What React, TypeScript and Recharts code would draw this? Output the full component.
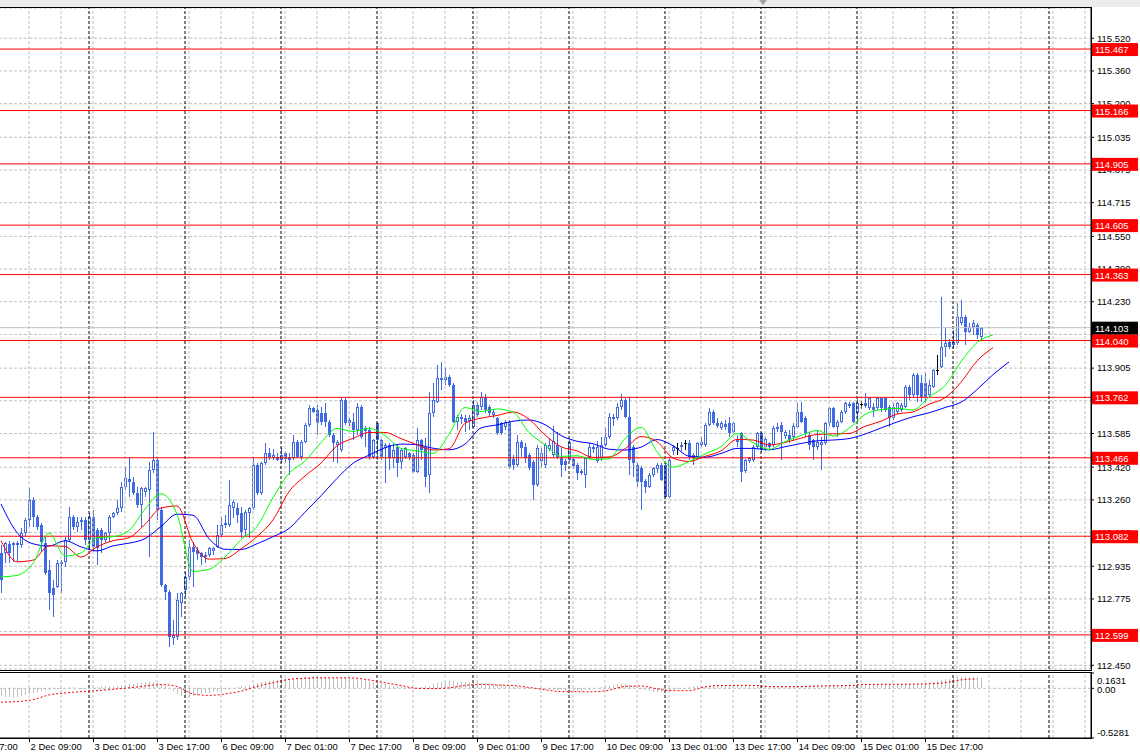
import React from 'react';
import { ComposedChart, Bar, Line, XAxis, YAxis, CartesianGrid, ReferenceLine } from 'recharts';

// H1 candles with three moving averages, horizontal levels and an oscillator panel underneath

const opens = [
  113.000, 112.998, 113.044, 113.040, 113.047, 113.039, 113.096, 113.161, 113.259, 113.178,
  113.137, 113.047, 112.917, 112.827, 112.835, 112.949, 112.957, 113.063, 113.178, 113.129,
  113.153, 113.161, 113.063, 113.178, 113.112, 113.112, 113.063, 113.096, 113.178, 113.194,
  113.218, 113.325, 113.361, 113.349, 113.292, 113.235, 113.300, 113.310, 113.406, 113.455,
  113.210, 112.843, 112.811, 112.582, 112.590, 112.753, 112.819, 112.884, 113.031, 113.015,
  112.998, 112.990, 112.990, 113.010, 113.031, 113.088, 113.137, 113.137, 113.218, 113.219,
  113.194, 113.112, 113.196, 113.219, 113.431, 113.292, 113.439, 113.488, 113.465, 113.472,
  113.455, 113.488, 113.470, 113.463, 113.545, 113.472, 113.545, 113.627, 113.708, 113.700,
  113.684, 113.684, 113.643, 113.578, 113.530, 113.504, 113.749, 113.635, 113.643, 113.602,
  113.716, 113.610, 113.602, 113.472, 113.635, 113.553, 113.515, 113.530, 113.464, 113.520,
  113.445, 113.472, 113.488, 113.480, 113.398, 113.553, 113.520, 113.382, 113.684, 113.741,
  113.850, 113.847, 113.863, 113.823, 113.643, 113.660, 113.660, 113.645, 113.619, 113.725,
  113.715, 113.766, 113.716, 113.676, 113.660, 113.635, 113.619, 113.643, 113.460, 113.430,
  113.545, 113.520, 113.480, 113.447, 113.333, 113.450, 113.430, 113.510, 113.480, 113.529,
  113.464, 113.450, 113.455, 113.460, 113.430, 113.400, 113.382, 113.470, 113.510, 113.450,
  113.465, 113.529, 113.570, 113.660, 113.660, 113.716, 113.749, 113.667, 113.520, 113.430,
  113.415, 113.350, 113.325, 113.380, 113.410, 113.430, 113.431, 113.276, 113.500, 113.513,
  113.520, 113.537, 113.537, 113.480, 113.470, 113.530, 113.530, 113.627, 113.692, 113.635,
  113.610, 113.630, 113.635, 113.594, 113.560, 113.586, 113.400, 113.450, 113.455, 113.521,
  113.586, 113.520, 113.537, 113.529, 113.605, 113.626, 113.575, 113.580, 113.570, 113.618,
  113.691, 113.660, 113.580, 113.553, 113.520, 113.530, 113.537, 113.634, 113.708, 113.618,
  113.642, 113.690, 113.720, 113.732, 113.683, 113.728, 113.735, 113.708, 113.716, 113.708,
  113.757, 113.757, 113.716, 113.659, 113.691, 113.700, 113.716, 113.814, 113.773, 113.871,
  113.830, 113.830, 113.773, 113.814, 113.895, 113.912, 114.010, 114.034, 114.018, 114.026,
  114.124, 114.156, 114.083, 114.107, 114.116, 114.059,
];
const highs = [
  113.039, 113.055, 113.060, 113.055, 113.060, 113.121, 113.170, 113.316, 113.276, 113.186,
  113.145, 113.080, 112.966, 112.868, 112.966, 112.966, 113.080, 113.223, 113.186, 113.178,
  113.178, 113.178, 113.194, 113.210, 113.120, 113.121, 113.104, 113.186, 113.202, 113.259,
  113.349, 113.423, 113.471, 113.374, 113.325, 113.325, 113.325, 113.447, 113.594, 113.463,
  113.227, 112.850, 112.820, 112.672, 112.802, 112.811, 112.909, 113.063, 113.055, 113.031,
  113.006, 113.006, 113.031, 113.030, 113.137, 113.178, 113.186, 113.357, 113.259, 113.243,
  113.227, 113.210, 113.227, 113.472, 113.440, 113.447, 113.537, 113.513, 113.508, 113.488,
  113.521, 113.496, 113.488, 113.578, 113.553, 113.553, 113.635, 113.725, 113.717, 113.725,
  113.716, 113.733, 113.652, 113.586, 113.553, 113.765, 113.757, 113.660, 113.684, 113.733,
  113.725, 113.620, 113.619, 113.560, 113.640, 113.560, 113.537, 113.537, 113.537, 113.529,
  113.513, 113.521, 113.496, 113.490, 113.611, 113.560, 113.561, 113.790, 113.831, 113.921,
  113.937, 113.904, 113.870, 113.830, 113.676, 113.680, 113.676, 113.676, 113.749, 113.740,
  113.790, 113.780, 113.725, 113.700, 113.665, 113.643, 113.651, 113.651, 113.480, 113.578,
  113.553, 113.540, 113.490, 113.455, 113.529, 113.513, 113.537, 113.561, 113.620, 113.594,
  113.520, 113.460, 113.553, 113.470, 113.440, 113.410, 113.472, 113.540, 113.530, 113.550,
  113.570, 113.610, 113.684, 113.680, 113.733, 113.778, 113.760, 113.765, 113.530, 113.440,
  113.425, 113.360, 113.390, 113.423, 113.440, 113.440, 113.440, 113.472, 113.530, 113.538,
  113.545, 113.553, 113.553, 113.490, 113.545, 113.570, 113.635, 113.708, 113.700, 113.660,
  113.645, 113.650, 113.667, 113.643, 113.580, 113.594, 113.460, 113.470, 113.530, 113.594,
  113.594, 113.570, 113.545, 113.620, 113.635, 113.640, 113.600, 113.600, 113.634, 113.732,
  113.740, 113.670, 113.590, 113.560, 113.600, 113.570, 113.642, 113.716, 113.716, 113.650,
  113.700, 113.740, 113.740, 113.740, 113.756, 113.745, 113.781, 113.765, 113.732, 113.765,
  113.760, 113.765, 113.724, 113.732, 113.740, 113.735, 113.822, 113.822, 113.879, 113.879,
  113.871, 113.879, 113.846, 113.903, 113.969, 114.254, 114.107, 114.050, 114.091, 114.222,
  114.238, 114.165, 114.124, 114.140, 114.124, 114.107,
];
const lows = [
  112.804, 112.949, 112.949, 112.957, 112.960, 113.023, 113.080, 113.129, 113.129, 113.112,
  113.006, 112.892, 112.721, 112.688, 112.827, 112.802, 112.933, 113.055, 113.112, 113.104,
  113.112, 113.039, 113.015, 113.006, 112.941, 112.998, 113.055, 113.055, 113.170, 113.186,
  113.202, 113.308, 113.276, 113.284, 113.218, 113.129, 113.276, 112.982, 113.390, 113.161,
  112.835, 112.770, 112.541, 112.549, 112.574, 112.688, 112.786, 112.868, 112.835, 112.966,
  112.941, 112.949, 112.982, 112.990, 113.023, 113.080, 113.120, 113.129, 113.170, 113.145,
  113.072, 113.080, 113.072, 113.210, 113.284, 113.284, 113.430, 113.455, 113.455, 113.448,
  113.439, 113.440, 113.382, 113.455, 113.463, 113.455, 113.537, 113.619, 113.684, 113.578,
  113.627, 113.619, 113.570, 113.447, 113.439, 113.496, 113.627, 113.620, 113.553, 113.578,
  113.560, 113.520, 113.455, 113.460, 113.455, 113.455, 113.341, 113.406, 113.415, 113.374,
  113.410, 113.460, 113.455, 113.390, 113.390, 113.455, 113.325, 113.292, 113.668, 113.733,
  113.798, 113.820, 113.815, 113.635, 113.602, 113.630, 113.594, 113.600, 113.610, 113.668,
  113.700, 113.684, 113.668, 113.660, 113.578, 113.578, 113.600, 113.410, 113.406, 113.420,
  113.472, 113.440, 113.407, 113.260, 113.325, 113.423, 113.415, 113.500, 113.470, 113.460,
  113.370, 113.400, 113.450, 113.410, 113.358, 113.380, 113.317, 113.460, 113.490, 113.440,
  113.450, 113.520, 113.560, 113.620, 113.650, 113.700, 113.660, 113.382, 113.374, 113.325,
  113.211, 113.292, 113.317, 113.370, 113.390, 113.350, 113.268, 113.270, 113.480, 113.480,
  113.500, 113.504, 113.455, 113.430, 113.460, 113.520, 113.520, 113.620, 113.627, 113.610,
  113.600, 113.600, 113.570, 113.585, 113.520, 113.349, 113.390, 113.440, 113.447, 113.510,
  113.496, 113.500, 113.510, 113.520, 113.590, 113.455, 113.560, 113.540, 113.550, 113.610,
  113.634, 113.570, 113.504, 113.455, 113.504, 113.406, 113.530, 113.620, 113.610, 113.570,
  113.634, 113.680, 113.710, 113.635, 113.640, 113.705, 113.708, 113.699, 113.667, 113.700,
  113.691, 113.691, 113.618, 113.650, 113.680, 113.690, 113.708, 113.748, 113.765, 113.740,
  113.740, 113.732, 113.765, 113.806, 113.871, 113.904, 113.961, 114.000, 114.000, 114.018,
  114.116, 114.018, 114.075, 114.067, 114.050, 114.050,
];
const closes = [
  112.868, 113.047, 112.998, 113.047, 113.040, 113.096, 113.161, 113.259, 113.178, 113.129,
  113.055, 112.900, 112.802, 112.794, 112.949, 112.957, 113.063, 113.178, 113.129, 113.153,
  113.161, 113.063, 113.178, 113.031, 113.023, 113.063, 113.096, 113.178, 113.194, 113.218,
  113.325, 113.365, 113.349, 113.292, 113.235, 113.316, 113.318, 113.406, 113.455, 113.210,
  112.843, 112.811, 112.590, 112.598, 112.770, 112.802, 112.884, 113.031, 113.007, 112.995,
  112.982, 112.982, 113.023, 113.023, 113.088, 113.137, 113.145, 113.235, 113.251, 113.186,
  113.104, 113.202, 113.219, 113.431, 113.292, 113.439, 113.488, 113.472, 113.480, 113.455,
  113.480, 113.458, 113.455, 113.545, 113.472, 113.545, 113.627, 113.708, 113.692, 113.635,
  113.643, 113.643, 113.578, 113.537, 113.545, 113.749, 113.635, 113.651, 113.602, 113.716,
  113.570, 113.595, 113.472, 113.553, 113.553, 113.472, 113.530, 113.465, 113.504, 113.439,
  113.504, 113.513, 113.472, 113.398, 113.553, 113.504, 113.374, 113.684, 113.749, 113.855,
  113.855, 113.863, 113.823, 113.643, 113.668, 113.668, 113.643, 113.660, 113.725, 113.676,
  113.766, 113.700, 113.684, 113.692, 113.586, 113.586, 113.643, 113.423, 113.430, 113.545,
  113.513, 113.464, 113.415, 113.333, 113.513, 113.490, 113.529, 113.529, 113.550, 113.472,
  113.430, 113.430, 113.545, 113.425, 113.390, 113.390, 113.464, 113.520, 113.520, 113.520,
  113.529, 113.570, 113.667, 113.667, 113.716, 113.749, 113.667, 113.455, 113.440, 113.349,
  113.349, 113.325, 113.382, 113.415, 113.431, 113.357, 113.276, 113.455, 113.521, 113.513,
  113.530, 113.537, 113.472, 113.463, 113.537, 113.545, 113.627, 113.692, 113.635, 113.620,
  113.635, 113.615, 113.586, 113.635, 113.545, 113.398, 113.455, 113.463, 113.521, 113.586,
  113.504, 113.560, 113.520, 113.610, 113.618, 113.593, 113.590, 113.555, 113.620, 113.691,
  113.642, 113.585, 113.528, 113.520, 113.545, 113.545, 113.634, 113.708, 113.618, 113.642,
  113.691, 113.732, 113.730, 113.642, 113.732, 113.728, 113.719, 113.757, 113.699, 113.757,
  113.708, 113.699, 113.659, 113.716, 113.732, 113.724, 113.814, 113.773, 113.871, 113.773,
  113.765, 113.765, 113.822, 113.895, 113.895, 114.010, 114.026, 114.010, 114.034, 114.156,
  114.156, 114.083, 114.107, 114.124, 114.067, 114.099,
];

// moving averages read every 4 bars (they run a few bars past the last candle)
const greenMA = [
  112.883, 112.890, 112.950, 113.097, 112.985, 113.000, 113.075, 113.080, 113.110, 113.215,
  113.290, 113.190, 112.910, 112.920, 112.980, 113.065, 113.130, 113.270, 113.390, 113.450,
  113.540, 113.610, 113.595, 113.610, 113.575, 113.512, 113.500, 113.488, 113.580, 113.712,
  113.693, 113.705, 113.690, 113.590, 113.530, 113.473, 113.476, 113.458, 113.462, 113.560,
  113.615, 113.496, 113.420, 113.447, 113.485, 113.520, 113.585, 113.540, 113.507, 113.545,
  113.575, 113.600, 113.572, 113.610, 113.678, 113.702, 113.708, 113.700, 113.763, 113.820,
  113.936, 114.030, 114.067,
];
const redMA = [
  113.060, 112.957, 112.965, 113.035, 113.032, 112.980, 113.030, 113.060, 113.075, 113.140,
  113.220, 113.230, 113.050, 112.970, 112.973, 113.020, 113.080, 113.162, 113.300, 113.377,
  113.440, 113.525, 113.561, 113.590, 113.590, 113.560, 113.530, 113.504, 113.510, 113.635,
  113.660, 113.673, 113.690, 113.655, 113.578, 113.520, 113.500, 113.468, 113.470, 113.510,
  113.570, 113.545, 113.465, 113.448, 113.473, 113.500, 113.556, 113.553, 113.529, 113.541,
  113.562, 113.580, 113.583, 113.585, 113.620, 113.645, 113.680, 113.691, 113.728, 113.760,
  113.836, 113.940, 114.005,
];
const blueMA = [
  113.240, 113.100, 113.045, 113.034, 113.060, 113.030, 113.010, 113.035, 113.048, 113.070,
  113.130, 113.190, 113.185, 113.070, 113.018, 113.017, 113.045, 113.080, 113.120, 113.200,
  113.280, 113.365, 113.439, 113.479, 113.515, 113.533, 113.530, 113.513, 113.505, 113.533,
  113.612, 113.627, 113.645, 113.651, 113.628, 113.575, 113.547, 113.535, 113.508, 113.504,
  113.518, 113.555, 113.525, 113.474, 113.469, 113.487, 113.512, 113.512, 113.505, 113.520,
  113.536, 113.549, 113.553, 113.560, 113.582, 113.612, 113.641, 113.667, 113.686, 113.712,
  113.738, 113.800, 113.873, 113.935,
];

// oscillator: histogram per bar, signal every 4 bars
const macdHist = [
  -0.08, -0.09, -0.09, -0.1, -0.09, -0.08, -0.07, -0.06,
  -0.05, -0.04, -0.03, -0.02, -0.02, -0.01, -0.01, -0.01,
  0, 0.01, 0.01, 0, -0.01, -0.01, 0, 0.01, 0.01,
  0.02, 0.02, 0.03, 0.03, 0.03, 0.04, 0.04, 0.05, 0.05, 0.06, 0.06, 0.07, 0.07, 0.07, 0.06, 0.05,
  0.03, 0, -0.03, -0.06, -0.08, -0.09, -0.09, -0.08, -0.07, -0.06,
  -0.05, -0.05, -0.04, -0.04, -0.03, -0.02, -0.01, 0, 0.01, 0.02,
  0.03, 0.04, 0.05, 0.06, 0.07, 0.08, 0.08, 0.09, 0.09, 0.1, 0.1, 0.1, 0.1, 0.11, 0.11,
  0.12, 0.12, 0.13, 0.13, 0.12, 0.12, 0.11, 0.11, 0.1, 0.11, 0.11, 0.1, 0.1, 0.1, 0.1, 0.09, 0.08, 0.07, 0.06, 0.06,
  0.05, 0.04, 0.03, 0.02, 0.02, 0.01, 0.01, 0, 0, 0.01,
  0.02, 0.03, 0.05, 0.06, 0.07, 0.08, 0.08, 0.08, 0.07, 0.07, 0.07, 0.07, 0.07, 0.07, 0.06,
  0.06, 0.06, 0.05, 0.05, 0.05, 0.04, 0.03, 0.02, 0.02, 0.01, 0.01, 0, 0, -0.01, -0.01,
  -0.02, -0.02, -0.02, -0.02, -0.02, -0.03, -0.03, -0.03, -0.03, -0.03, -0.02, -0.02, -0.01, 0, 0.01,
  0.02, 0.03, 0.04, 0.05, 0.05, 0.05, 0.04, 0.03, 0.01, -0.01,
  -0.02, -0.03, -0.04, -0.04, -0.04, -0.04, -0.03, -0.02, -0.01, 0, 0, 0.01,
  0.02, 0.02, 0.03, 0.03, 0.03, 0.04, 0.04, 0.04, 0.04, 0.03, 0.03, 0.03, 0.02, 0.02,
  0.02, 0.02, 0.03, 0.03, 0.03, 0.02, 0.02, 0.02, 0.03, 0.03, 0.03, 0.02, 0.02, 0.03,
  0.03, 0.03, 0.03, 0.03, 0.03, 0.03, 0.04, 0.04, 0.04, 0.04, 0.04, 0.04, 0.04,
  0.04, 0.04, 0.04, 0.04, 0.04, 0.04, 0.04, 0.04, 0.04, 0.04, 0.04, 0.05,
  0.05, 0.05, 0.05, 0.05, 0.05, 0.06, 0.06, 0.07, 0.08, 0.09, 0.1, 0.1, 0.11, 0.11, 0.12, 0.12, 0.12, 0.12, 0.12, 0.11,
];
const macdSignal = [
  -0.146, -0.140, -0.120, -0.070, -0.050, -0.035, -0.025, -0.010, 0.005, 0.025,
  0.040, 0.020, -0.060, -0.075, -0.060, -0.030, 0.020, 0.060, 0.095, 0.108,
  0.112, 0.112, 0.110, 0.090, 0.060, 0.030, 0.000, -0.003, 0.005, 0.030,
  0.042, 0.035, 0.030, 0.010, -0.015, -0.035, -0.036, -0.036, -0.020, 0.020,
  0.025, -0.005, -0.025, -0.025, 0.015, 0.030, 0.032, 0.032, 0.018, 0.017,
  0.018, 0.025, 0.027, 0.030, 0.042, 0.043, 0.043, 0.045, 0.048, 0.060,
  0.090, 0.100,
];

const timeTicks = [7, 23, 39, 55, 71, 87, 103, 119, 135, 151, 167, 183, 199, 215, 231];
const timeLabels = [
  '2 Dec 09:00', '3 Dec 01:00', '3 Dec 17:00', '6 Dec 09:00', '7 Dec 01:00',
  '7 Dec 17:00', '8 Dec 09:00', '9 Dec 01:00', '9 Dec 17:00', '10 Dec 09:00',
  '13 Dec 01:00', '13 Dec 17:00', '14 Dec 09:00', '15 Dec 01:00', '15 Dec 17:00',
];
const prevTimeLabel = '1 Dec 17:00'; // only its tail shows at the left edge

const priceTicks = [
  115.52, 115.36, 115.2, 115.035, 114.875, 114.715, 114.55, 114.39, 114.23, 114.07,
  113.905, 113.745, 113.585, 113.42, 113.26, 113.1, 112.935, 112.775, 112.615, 112.45,
];
const levels = [115.467, 115.166, 114.905, 114.605, 114.363, 114.04, 113.762, 113.466, 113.082, 112.599];
const lastPrice = 114.103;
const oscTicks = [0.1631, 0, -0.5281];

const SLOTS = 273;
const MA_STEP = 4;
const PRICE_DOMAIN = [112.432, 115.668];
const FONT = '"Liberation Sans", Arial, sans-serif';
const CANDLE = '#4169e1';

const rows = Array.from({ length: SLOTS }, (_, i) => {
  const row: Record<string, any> = { i };
  if (i < closes.length) {
    row.o = opens[i];
    row.h = highs[i];
    row.l = lows[i];
    row.c = closes[i];
    row.range = [lows[i], highs[i]];
    row.hist = macdHist[i];
  }
  if (i % MA_STEP === 0) {
    const k = i / MA_STEP;
    if (k < greenMA.length) row.g = greenMA[k];
    if (k < redMA.length) row.r = redMA[k];
    if (k < blueMA.length) row.b = blueMA[k];
    if (k < macdSignal.length) row.s = macdSignal[k];
  }
  return row;
});

const gridCols = Array.from({ length: 34 }, (_, k) => 7 + 8 * k).filter((v) => v < SLOTS);
const daySeps = Array.from({ length: 12 }, (_, k) => 22 + 24 * k).filter((v) => v < SLOTS);

const renderCandle = (props: any) => {
  const { x, y, width, height, payload } = props;
  if (!payload || payload.o == null) return <g />;
  const top = Math.min(y, y + height);
  const h = Math.abs(height);
  const k = h / (payload.h - payload.l);
  const cx = Math.round(x + width / 2);
  const yo = top + (payload.h - payload.o) * k;
  const yc = top + (payload.h - payload.c) * k;
  const doji = payload.o === payload.c;
  const color = doji ? '#000' : CANDLE;
  const bTop = Math.round(Math.min(yo, yc));
  const bBot = Math.round(Math.max(yo, yc));
  return (
    <g shapeRendering="crispEdges">
      <line x1={cx + 0.5} x2={cx + 0.5} y1={top} y2={top + h} stroke={color} />
      {doji ? (
        <line x1={cx - 1} x2={cx + 2} y1={bTop + 0.5} y2={bTop + 0.5} stroke={color} />
      ) : payload.c > payload.o ? (
        <rect x={cx - 0.5} y={bTop + 0.5} width={2} height={Math.max(bBot - bTop - 1, 1)} fill="#fff" stroke={color} />
      ) : (
        <rect x={cx - 1} y={bTop} width={3} height={Math.max(bBot - bTop, 1)} fill={color} />
      )}
    </g>
  );
};

const renderHist = (props: any) => {
  const { x, y, width, height } = props;
  if (!height) return <g />;
  const cx = Math.round(x + width / 2);
  return <rect x={cx} y={Math.min(y, y + height)} width={1} height={Math.abs(height)} fill="#c0c0c0" shapeRendering="crispEdges" />;
};

const tag = (value: number, bg: string) => (props: any) => {
  const vb = props.viewBox || {};
  const x = vb.x + vb.width + 1;
  const y = vb.y;
  return (
    <g>
      <rect x={x} y={y - 6} width={46} height={13} fill={bg} />
      <text x={x + 3} y={y + 4} fill="#fff" fontSize={9.5} fontFamily={FONT}>
        {value.toFixed(3)}
      </text>
    </g>
  );
};

const TimeTick = (props: any) => {
  const { x, y, payload } = props;
  const k = timeTicks.indexOf(payload.value);
  if (k < 0) return <g />;
  const px = Math.round(x) + 0.5;
  const step = (timeTicks[1] - timeTicks[0]) * 4;
  return (
    <g>
      {k === 0 && (
        <text x={px + 1 - step} y={y + 12} fontSize={9.5} fontFamily={FONT} fill="#000">
          {prevTimeLabel}
        </text>
      )}
      <line x1={px} x2={px} y1={y} y2={y + 4} stroke="#000" />
      <text x={px + 1} y={y + 12} fontSize={9.5} fontFamily={FONT} fill="#000">
        {timeLabels[k]}
      </text>
    </g>
  );
};

const OscTick = (props: any) => {
  const { x, y, payload } = props;
  const v = payload.value;
  const label = v === 0 ? '0.00' : v.toFixed(4);
  const dy = v > 0 ? 11 : v < 0 ? -2 : 5;
  return (
    <text x={x} y={y + dy} fontSize={9.5} fontFamily={FONT} fill="#000">
      {label}
    </text>
  );
};

export default function App() {
  return (
    <div style={{ position: 'absolute', left: 0, top: 0, width: 1140, height: 756, background: '#fff', overflow: 'hidden' }}>
      <div style={{ position: 'absolute', left: 0, top: 0, width: 1140, height: 7, background: '#ececec' }} />
      <div
        style={{
          position: 'absolute', left: 759, top: 0, width: 0, height: 0,
          borderLeft: '4px solid transparent', borderRight: '4px solid transparent', borderTop: '5px solid #a0a0a0',
        }}
      />

      {/* price panel */}
      <div style={{ position: 'absolute', left: -1, top: 0 }}>
        <ComposedChart width={1140} height={670} data={rows} margin={{ top: 8, right: 0, bottom: 1, left: 0 }} barCategoryGap={0} barGap={0}>
          <CartesianGrid vertical={false} stroke="#c0c0c0" strokeDasharray="3 2" />
          <XAxis dataKey="i" hide />
          <YAxis
            orientation="right"
            width={48}
            domain={PRICE_DOMAIN}
            allowDataOverflow
            ticks={priceTicks}
            interval={0}
            tickSize={3}
            tickMargin={3}
            tickFormatter={(v: number) => v.toFixed(3)}
            tick={{ fontSize: 9.5, fill: '#000', fontFamily: FONT }}
            axisLine={{ stroke: '#000' }}
            tickLine={{ stroke: '#000' }}
          />
          {gridCols.map((v) => (
            <ReferenceLine key={'gc' + v} x={v} stroke="#c0c0c0" strokeDasharray="3 2" />
          ))}
          {daySeps.map((v) => (
            <ReferenceLine key={'ds' + v} x={v} stroke="#000" strokeDasharray="3 2" />
          ))}
          <ReferenceLine y={lastPrice} stroke="#c0c0c0" />
          {levels.map((v) => (
            <ReferenceLine key={'lv' + v} y={v} stroke="#ff0000" />
          ))}
          <Bar dataKey="range" shape={renderCandle} isAnimationActive={false} />
          <Line dataKey="b" type="monotone" stroke="#0000ff" strokeWidth={1} dot={false} connectNulls isAnimationActive={false} />
          <Line dataKey="r" type="monotone" stroke="#ff0000" strokeWidth={1} dot={false} connectNulls isAnimationActive={false} />
          <Line dataKey="g" type="monotone" stroke="#00ff00" strokeWidth={1} dot={false} connectNulls isAnimationActive={false} />
        </ComposedChart>
      </div>

      {/* price tags, drawn above the axis labels */}
      <div style={{ position: 'absolute', left: -1, top: 0, pointerEvents: 'none' }}>
        <ComposedChart width={1140} height={670} data={rows} margin={{ top: 8, right: 48, bottom: 1, left: 0 }}>
          <XAxis dataKey="i" hide />
          <YAxis hide domain={PRICE_DOMAIN} allowDataOverflow />
          <ReferenceLine y={lastPrice} stroke="none" label={tag(lastPrice, '#000')} />
          {levels.map((v) => (
            <ReferenceLine key={'tg' + v} y={v} stroke="none" label={tag(v, '#ff0000')} />
          ))}
        </ComposedChart>
      </div>

      {/* oscillator panel */}
      <div style={{ position: 'absolute', left: -1, top: 671 }}>
        <ComposedChart width={1140} height={85} data={rows} margin={{ top: 2, right: 0, bottom: 0, left: 0 }} barCategoryGap={0} barGap={0}>
          <XAxis
            dataKey="i"
            interval={0}
            height={18}
            tickSize={0}
            tickMargin={0}
            tickLine={false}
            axisLine={{ stroke: '#000' }}
            tick={<TimeTick />}
          />
          <YAxis
            orientation="right"
            width={48}
            domain={[-0.5281, 0.1631]}
            allowDataOverflow
            ticks={oscTicks}
            interval={0}
            tickSize={3}
            tickMargin={3}
            tick={<OscTick />}
            axisLine={{ stroke: '#000' }}
            tickLine={{ stroke: '#000' }}
          />
          {gridCols.map((v) => (
            <ReferenceLine key={'gc' + v} x={v} stroke="#c0c0c0" strokeDasharray="3 2" />
          ))}
          {daySeps.map((v) => (
            <ReferenceLine key={'ds' + v} x={v} stroke="#000" strokeDasharray="3 2" />
          ))}
          <ReferenceLine y={0} stroke="#c0c0c0" strokeDasharray="3 2" />
          <Bar dataKey="hist" shape={renderHist} isAnimationActive={false} />
          <Line dataKey="s" type="monotone" stroke="#ff0000" strokeWidth={1} strokeDasharray="2 2" dot={false} connectNulls isAnimationActive={false} />
        </ComposedChart>
      </div>

      <div style={{ position: 'absolute', left: -1, top: 7, width: 1093, height: 664, border: '1px solid #000', boxSizing: 'border-box', pointerEvents: 'none' }} />
      <div style={{ position: 'absolute', left: -1, top: 672, width: 1093, height: 67, border: '1px solid #000', boxSizing: 'border-box', pointerEvents: 'none' }} />
    </div>
  );
}
